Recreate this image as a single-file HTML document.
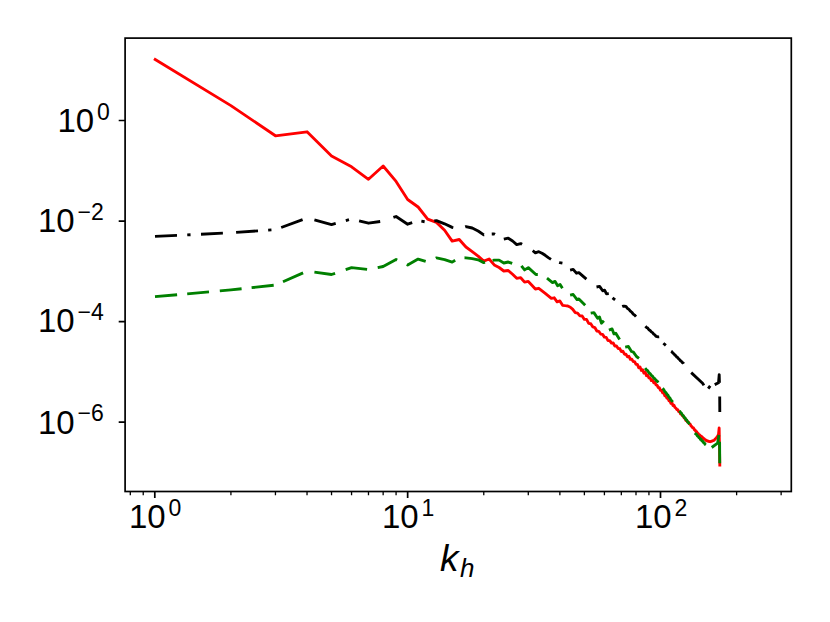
<!DOCTYPE html>
<html lang="en">
<head>
<meta charset="utf-8">
<title>Spectrum plot</title>
<style>
html,body{margin:0;padding:0;background:#ffffff;}
body{font-family:"Liberation Sans",sans-serif;width:830px;height:622px;overflow:hidden;}
svg{display:block;}
</style>
</head>
<body>
<svg width="830" height="622" viewBox="0 0 830 622" role="img" aria-label="Log-log spectrum plot versus k_h">
<title>Spectra versus horizontal wavenumber k_h (log-log)</title>
<desc>Log-log line chart. x axis k_h with ticks 10^0, 10^1, 10^2; y axis ticks 10^0, 10^-2, 10^-4, 10^-6. Three curves: solid red, dashed green, dash-dot black.</desc>
<rect x="0" y="0" width="830" height="622" fill="#ffffff"/>
<defs><clipPath id="axclip"><rect x="125.1" y="38.1" width="666.20" height="453.40"/></clipPath></defs>
<g clip-path="url(#axclip)" fill="none" stroke-linejoin="round">
<polyline id="line-red" points="155.20,59.45 230.92,105.60 275.44,135.80 307.03,131.80 331.53,156.10 351.56,166.80 368.48,179.30 383.15,166.00 396.08,181.40 407.65,199.50 418.12,207.00 427.67,219.10 436.46,222.40 444.60,230.20 452.17,241.10 459.26,239.50 465.92,247.00 472.20,251.60 478.13,256.10 483.77,261.10 489.12,259.00 494.23,264.90 499.11,267.50 503.79,271.00 508.27,270.50 512.58,274.30 516.72,278.30 520.71,277.70 524.57,282.10 528.29,281.40 531.89,285.20 535.38,289.00 538.76,288.30 542.03,290.90 545.22,293.40 548.31,295.90 551.32,298.40 554.25,297.80 557.10,301.80 559.88,300.90 562.59,305.30 565.24,305.70 567.82,306.00 570.35,307.20 572.81,309.43 575.23,312.62 577.59,313.12 579.90,315.83 582.17,315.96 584.38,319.44 586.56,319.44 588.69,323.40 590.78,323.73 592.84,326.97 594.85,327.59 596.83,331.00 598.77,331.29 600.68,334.06 602.56,334.35 604.41,337.11 606.22,337.30 608.01,340.67 609.76,340.70 611.49,343.12 613.20,343.03 614.87,346.16 616.52,346.04 618.15,348.56 619.75,348.55 621.33,351.62 622.89,351.17 624.43,354.21 625.94,354.09 627.44,356.82 628.91,356.22 630.36,359.41 631.80,359.11 633.22,361.66 634.62,361.61 636.00,364.41 637.36,364.38 638.71,367.75 640.04,366.95 641.35,370.49 642.65,369.67 643.94,373.13 645.21,372.05 646.46,375.66 647.70,375.10 648.93,377.83 650.14,377.83 651.34,380.59 652.53,379.97 653.71,382.74 654.87,382.15 656.02,384.98 657.16,385.32 658.28,387.71 659.40,387.77 660.50,390.31 661.59,390.44 662.67,392.88 663.75,392.84 664.81,395.83 665.86,395.65 666.90,398.15 667.93,398.06 668.95,400.73 669.96,400.75 670.97,403.37 671.96,402.79 672.94,405.51 673.92,405.18 674.89,407.41 675.85,408.09 676.80,409.62 677.74,409.68 678.68,411.71 679.60,411.84 680.52,413.94 681.43,414.26 682.34,415.59 683.23,415.91 684.12,418.04 685.00,418.25 685.88,420.44 686.75,420.24 687.61,422.04 688.46,422.16 689.31,423.90 690.15,424.18 690.99,425.93 691.82,426.43 692.64,427.72 693.45,427.92 694.27,429.77 695.07,429.93 695.87,431.49 696.66,431.62 697.45,433.22 698.23,433.61 699.01,435.05 699.78,435.00 700.54,436.22 701.30,436.25 702.06,437.22 702.81,437.48 703.55,438.70 704.29,438.75 705.02,439.71 705.75,439.84 706.48,440.79 707.20,440.63 707.91,441.24 708.63,441.07 709.33,441.62 710.03,441.55 710.73,441.76 711.42,441.21 712.11,441.18 712.80,440.62 713.48,440.62 714.15,440.09 714.82,439.48 715.49,438.60 716.15,438.17 716.81,437.22 717.47,436.48 718.12,435.30 718.50,434.50 719.15,428.00 719.80,465.00" stroke="#ff0000" stroke-width="2.85" stroke-linecap="square"/>
<path id="line-green" d="M155.00 296.68L177.10 294.71M187.20 293.81L209.00 291.86M219.80 290.89L230.92 289.90L241.60 288.75M251.60 287.67L273.70 285.29M283.00 281.75L303.10 272.84M314.40 272.12L331.53 274.50L335.10 273.29M345.70 269.69L351.56 267.70L367.10 269.44M377.70 267.65L383.15 266.50L396.08 259.50L397.20 260.03M406.70 264.55L407.65 265.00L418.12 259.10L425.70 261.48M435.80 258.22L436.46 257.90L444.60 259.70L452.17 262.10L455.20 260.22M464.50 257.78L465.92 257.80L472.20 258.60L478.13 259.80L483.77 262.60L485.00 262.19M492.60 260.32L494.23 260.10L499.11 260.10L503.79 263.00L508.27 262.00L512.20 263.46M521.40 265.80L524.60 269.90L528.30 267.60L535.90 274.50L537.80 274.50M547.00 278.20L552.50 282.60L555.10 281.40L557.60 285.80L560.10 284.50L562.40 288.30M570.10 295.20L573.20 294.50L577.00 299.60L578.90 298.90L585.20 305.20M590.70 313.20L593.90 312.60L597.60 318.20L599.50 317.00L601.40 323.20L603.90 320.70M608.90 330.10L612.10 328.90L614.00 333.90L615.80 333.30L619.60 339.60M625.20 347.10L628.40 346.50L631.50 351.50L633.40 352.10L636.50 356.50L639.00 358.40M645.10 368.20L646.46 369.90L647.70 370.76L648.93 372.72L650.14 373.59L651.34 375.31L652.53 376.16L653.71 378.01L654.87 378.75L656.02 380.36L657.16 381.02L658.20 382.60M662.60 388.30L663.75 389.64L664.81 391.62L665.86 392.56L666.90 394.33L667.93 395.20L668.95 397.32L669.96 398.02L670.97 400.05L671.96 400.94L672.70 402.10M679.50 410.80L680.52 412.51L681.43 413.10L682.34 415.01L683.23 415.61L684.12 417.40L685.00 417.80L685.88 419.69L686.75 420.06L687.61 421.88L688.46 422.67L689.50 424.20M694.90 433.00L695.87 434.21L696.66 434.53L697.45 435.97L698.23 436.42L699.01 437.68L699.78 438.11L700.54 439.45L701.30 439.54L702.06 441.19L702.81 441.22L703.55 442.56L704.29 442.85L705.02 444.26L705.90 444.90M711.70 447.50L717.60 443.20L718.90 435.00M719.60 441.70L719.75 463.30" stroke="#008000" stroke-width="2.85" stroke-linecap="butt"/>
<path id="line-black" d="M155.00 236.44L177.00 235.39M201.00 234.23L222.90 233.18M236.10 232.43L258.00 230.85M281.20 227.47L302.60 219.54M314.40 219.91L331.53 224.60L335.70 223.43M359.10 220.87L368.48 223.20L380.20 221.52M393.40 217.45L396.08 216.50L407.65 224.20L412.20 222.68M434.30 220.99L436.46 220.60L444.60 223.80L452.17 227.40L453.30 227.65M465.20 226.86L465.92 226.60L472.20 228.00L478.13 231.00L483.77 234.90L484.20 234.84M503.80 239.20L508.27 238.20L512.58 241.00L516.72 244.60L520.71 243.60L522.10 244.36M532.70 250.73L535.38 252.80L538.76 251.70L542.03 253.20L545.22 255.30L548.31 257.60L551.00 259.39M570.10 270.10L573.20 269.40L576.40 273.20L578.90 272.60L586.40 279.10M596.50 287.00L599.60 286.40L602.70 290.80L604.60 290.20L606.50 293.90L608.80 293.70M622.20 306.50L622.89 306.23L624.43 306.26L625.94 306.36L627.44 308.31L628.91 309.38L630.36 311.12L631.80 312.25L633.22 314.05L634.62 315.08L636.00 316.60M645.40 326.20L646.46 327.40L647.70 328.07L648.93 329.76L650.14 330.50L651.34 331.91L652.53 332.66L653.71 334.12L654.87 334.91L656.02 336.38L657.16 336.62L658.28 336.89L659.20 336.80M671.10 351.20L671.96 351.77L672.94 353.28L673.92 353.72L674.89 355.12L675.85 355.78L676.80 357.14L677.74 357.54L678.68 358.93L679.60 359.58L680.52 360.79L681.43 361.37L682.34 362.60L683.23 363.09L683.70 363.80M691.20 372.60L702.60 383.20L703.90 385.40M714.70 384.60L718.50 382.80L719.20 374.60L719.45 382.90M719.70 396.40L719.80 411.90M187.25 234.89L190.55 234.74M268.15 230.12L271.45 229.89M345.81 220.61L348.99 219.72M421.37 221.21L424.63 221.72M491.75 234.00L494.23 233.90L495.05 234.32M559.18 262.45L559.88 262.70L562.42 263.17M612.51 297.87L615.09 299.93M663.37 343.20L665.83 345.40M708.19 388.51L710.21 385.89" stroke="#000000" stroke-width="2.85" stroke-linecap="butt"/>
</g>
<path d="M154.80 491.5v6.4M407.65 491.5v6.4M660.50 491.5v6.4" stroke="#000" stroke-width="1.7" fill="none"/>
<path d="M130.30 491.5v3.8M143.23 491.5v3.8M230.92 491.5v3.8M275.44 491.5v3.8M307.03 491.5v3.8M331.53 491.5v3.8M351.56 491.5v3.8M368.48 491.5v3.8M383.15 491.5v3.8M396.08 491.5v3.8M483.77 491.5v3.8M528.29 491.5v3.8M559.88 491.5v3.8M584.38 491.5v3.8M604.41 491.5v3.8M621.33 491.5v3.8M636.00 491.5v3.8M648.93 491.5v3.8M736.62 491.5v3.8M781.14 491.5v3.8" stroke="#000" stroke-width="1.3" fill="none"/>
<path d="M125.1 120.50h-6.4M125.1 221.04h-6.4M125.1 321.58h-6.4M125.1 422.12h-6.4" stroke="#000" stroke-width="1.7" fill="none"/>
<rect x="125.1" y="38.1" width="666.20" height="453.40" fill="none" stroke="#000" stroke-width="1.7" stroke-linejoin="miter"/>
<g fill="#000" stroke="none" font-family="&quot;Liberation Sans&quot;, sans-serif">
<text x="129" y="527.85" font-size="33">10</text>
<text x="168.5" y="515.6" font-size="23">0</text>
<text x="382" y="527.85" font-size="33">10</text>
<text x="421.5" y="515.6" font-size="23">1</text>
<text x="635" y="527.85" font-size="33">10</text>
<text x="674.5" y="515.6" font-size="23">2</text>
<text x="57.5" y="131.85" font-size="33">10</text>
<text x="97" y="119.6" font-size="23">0</text>
<text x="38" y="232.45" font-size="33">10</text>
<text x="77.5" y="220.17" font-size="23">−2</text>
<text x="38" y="332.48" font-size="33">10</text>
<text x="77.5" y="320.19" font-size="23">−4</text>
<text x="38" y="433.55" font-size="33">10</text>
<text x="77.5" y="421.3" font-size="23">−6</text>
<text x="440" y="570.69" font-size="37" font-style="italic">k</text>
<text x="460" y="576.58" font-size="26" font-style="italic">h</text>
</g>
</svg>
</body>
</html>
